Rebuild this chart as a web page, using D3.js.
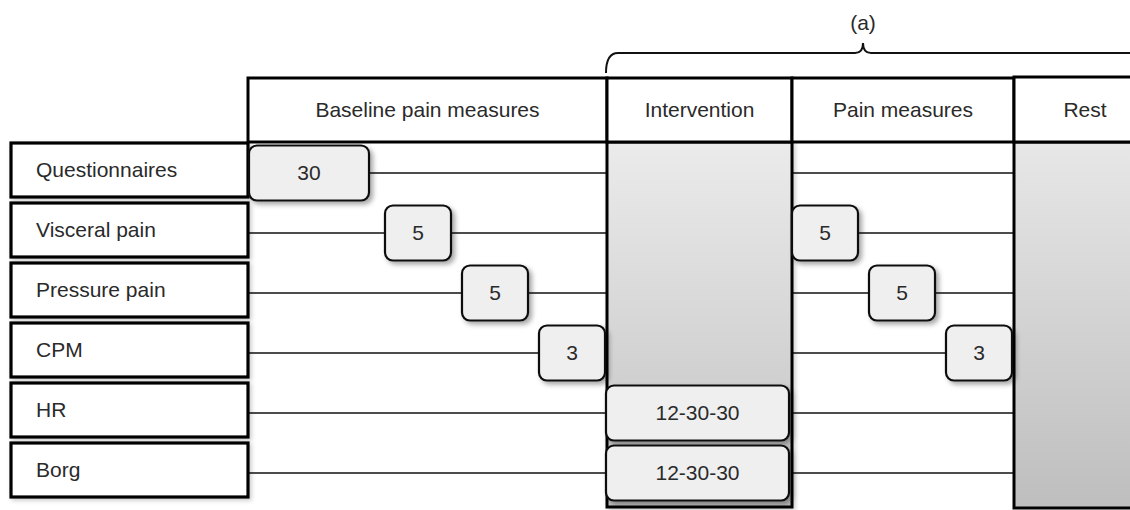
<!DOCTYPE html>
<html>
<head>
<meta charset="utf-8">
<script src="https://cdn.jsdelivr.net/npm/d3@7"></script>
<style>
  body { margin: 0; background: #fff; }
  text { font-family: Arial, "Liberation Sans", Helvetica, sans-serif; fill: #2a2a2a; }
</style>
</head>
<body>
<div id="chart"></div>
<script>
// study phases (columns) and measures (rows)
var phases = ["Baseline pain measures", "Intervention", "Pain measures", "Rest"];
var measures = ["Questionnaires", "Visceral pain", "Pressure pain", "CPM", "HR", "Borg"];
// minutes per measure in each phase (null = not measured)
var baselineMin = ["30", "5", "5", "3", null, null];
var interventionMin = [null, null, null, null, "12-30-30", "12-30-30"];
var painMin = [null, "5", "5", "3", null, null];
var bracketLabel = "(a)";

var width = 1130, height = 510;
var headerTop = 78, headerH = 64;
var gridBottom = 507;
var boxW = 66, boxH = 55, stagger = 77, wideW = 120;
var fontSize = 21;

var svg = d3.select("#chart").append("svg")
    .attr("width", width)
    .attr("height", height);

// column left edges; last column runs off the page
var colX = d3.scaleOrdinal().domain(phases).range([248, 607, 792, 1014]);
function colRight(p) {
  var i = phases.indexOf(p);
  return i < phases.length - 1 ? colX(phases[i + 1]) : width + 10;
}

var y = d3.scaleBand()
    .domain(measures)
    .range([140, 500])
    .paddingInner(0.1)
    .paddingOuter(0.05);
function lineY(m) { return y(m) + y.bandwidth() / 2 + 3; }

var defs = svg.append("defs");
var f = defs.append("filter").attr("id", "shadow")
    .attr("x", "-20%").attr("y", "-20%").attr("width", "140%").attr("height", "140%");
f.append("feDropShadow").attr("dx", 3).attr("dy", 3).attr("stdDeviation", 2.5)
    .attr("flood-color", "#000").attr("flood-opacity", 0.35);
var f2 = defs.append("filter").attr("id", "softshadow")
    .attr("x", "-10%").attr("y", "-20%").attr("width", "120%").attr("height", "140%");
f2.append("feDropShadow").attr("dx", 2).attr("dy", 2).attr("stdDeviation", 2)
    .attr("flood-color", "#000").attr("flood-opacity", 0.2);

function grad(id, c0, c1) {
  var g = defs.append("linearGradient").attr("id", id)
      .attr("x1", 0).attr("y1", 0).attr("x2", 0).attr("y2", 1);
  g.append("stop").attr("offset", "0%").attr("stop-color", c0);
  g.append("stop").attr("offset", "100%").attr("stop-color", c1);
}
grad("gInt", "#ebebeb", "#c2c2c2");
grad("gRest", "#e7e7e7", "#bebebe");

// build marker list from the arrays
var markers = [];
function addMarkers(phase, vals) {
  var short = [];
  vals.forEach(function(v, i) {
    if (v == null) return;
    var m = {phase: phase, measure: measures[i], label: v};
    if (phase === "Intervention") {
      m.x = colX(phase) - 1;
      m.w = colRight(phase) - colX(phase) - 2;
    } else if (+v >= 10) {
      // long block starts at the beginning of the phase
      m.x = colX(phase) + 1;
      m.w = wideW;
    } else {
      short.push(m);
    }
    markers.push(m);
  });
  short.forEach(function(m, k) {
    m.w = boxW;
    m.x = colRight(phase) - boxW - 2 - (short.length - 1 - k) * stagger;
  });
}
addMarkers("Baseline pain measures", baselineMin);
addMarkers("Intervention", interventionMin);
addMarkers("Pain measures", painMin);

// timeline lines through baseline and pain-measure phases
var linePhases = ["Baseline pain measures", "Pain measures"];
measures.forEach(function(m) {
  linePhases.forEach(function(p) {
    svg.append("line")
        .attr("x1", colX(p)).attr("x2", colRight(p))
        .attr("y1", lineY(m)).attr("y2", lineY(m))
        .attr("stroke", "#111").attr("stroke-width", 1.7);
  });
});

// grey columns
svg.append("rect")
    .attr("x", colX("Intervention")).attr("y", headerTop + headerH)
    .attr("width", colRight("Intervention") - colX("Intervention"))
    .attr("height", gridBottom - headerTop - headerH)
    .attr("fill", "url(#gInt)").attr("stroke", "#000").attr("stroke-width", 3)
    .attr("filter", "url(#softshadow)");
svg.append("rect")
    .attr("x", colX("Rest")).attr("y", headerTop + headerH)
    .attr("width", colRight("Rest") - colX("Rest"))
    .attr("height", gridBottom + 1 - headerTop - headerH)
    .attr("fill", "url(#gRest)").attr("stroke", "#000").attr("stroke-width", 3);

// header boxes
var head = svg.selectAll(".head").data(phases).enter().append("g").attr("class", "head");
head.append("rect")
    .attr("x", function(d) { return colX(d); })
    .attr("y", function(d) { return d === "Rest" ? headerTop - 1 : headerTop; })
    .attr("width", function(d) { return colRight(d) - colX(d); })
    .attr("height", function(d) { return d === "Rest" ? headerH + 1 : headerH; })
    .attr("fill", "#fff").attr("stroke", "#000").attr("stroke-width", 3);
head.append("text")
    .attr("x", function(d) { return d === "Rest" ? colX(d) + 71 : (colX(d) + colRight(d)) / 2; })
    .attr("y", headerTop + headerH / 2)
    .attr("dy", ".35em")
    .attr("text-anchor", "middle")
    .style("font-size", fontSize + "px")
    .text(function(d) { return d; });

// row label boxes
var lab = svg.selectAll(".lab").data(measures).enter().append("g").attr("class", "lab");
lab.append("rect")
    .attr("x", 11).attr("y", function(d) { return y(d); })
    .attr("width", 237).attr("height", y.bandwidth())
    .attr("fill", "#fff").attr("stroke", "#000").attr("stroke-width", 3.2)
    .attr("filter", "url(#softshadow)");
lab.append("text")
    .attr("x", 36).attr("y", function(d) { return y(d) + y.bandwidth() / 2; })
    .attr("dy", ".35em")
    .style("font-size", fontSize + "px")
    .text(function(d) { return d; });

// duration boxes
var mk = svg.selectAll(".mk").data(markers).enter().append("g").attr("class", "mk");
mk.append("rect")
    .attr("x", function(d) { return d.x; })
    .attr("y", function(d) { return lineY(d.measure) - boxH / 2; })
    .attr("width", function(d) { return d.w; })
    .attr("height", boxH)
    .attr("rx", 8)
    .attr("fill", "#efefef").attr("stroke", "#111").attr("stroke-width", 2.2)
    .attr("filter", "url(#shadow)");
mk.append("text")
    .attr("x", function(d) { return d.x + d.w / 2; })
    .attr("y", function(d) { return lineY(d.measure); })
    .attr("dy", ".35em")
    .attr("text-anchor", "middle")
    .style("font-size", fontSize + "px")
    .text(function(d) { return d.label; });

// curly bracket over intervention..rest
var bx0 = colX("Intervention") - 1, bmid = 863, bTop = 53;
svg.append("path")
    .attr("d", "M" + bx0 + "," + (headerTop - 5) +
               " Q" + bx0 + "," + bTop + " " + (bx0 + 12) + "," + bTop +
               " L" + (bmid - 8) + "," + bTop +
               " Q" + bmid + "," + bTop + " " + bmid + "," + (bTop - 10) +
               " Q" + bmid + "," + bTop + " " + (bmid + 8) + "," + bTop +
               " L" + (width + 10) + "," + bTop)
    .attr("fill", "none").attr("stroke", "#111").attr("stroke-width", 2);
svg.append("text")
    .attr("x", bmid).attr("y", 30)
    .attr("text-anchor", "middle")
    .style("font-size", fontSize + "px")
    .text(bracketLabel);
</script>
</body>
</html>
